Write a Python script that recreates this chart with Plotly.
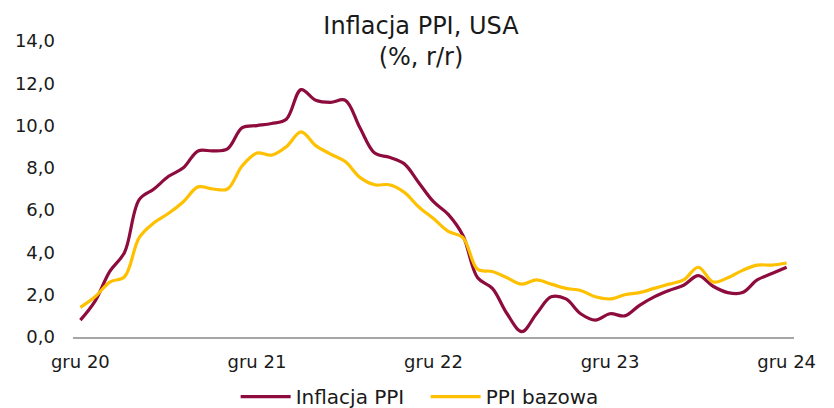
import plotly.graph_objects as go

# Monthly categories Dec 2020 .. Dec 2024
month_abbr = ["sty", "lut", "mar", "kwi", "maj", "cze", "lip", "sie", "wrz", "paź", "lis", "gru"]
categories = ["gru 20"] + [f"{m} {y}" for y in (21, 22, 23, 24) for m in month_abbr]

ppi = [0.8, 1.7, 3.1, 4.0, 6.5, 7.0, 7.6, 8.0, 8.8, 8.8, 8.9, 9.9, 10.0,
       10.1, 10.3, 11.7, 11.2, 11.1, 11.2, 9.9, 8.7, 8.5, 8.2, 7.3, 6.4,
       5.8, 4.8, 2.8, 2.3, 1.1, 0.25, 1.1, 1.9, 1.8, 1.1, 0.8, 1.1,
       1.0, 1.5, 1.9, 2.2, 2.45, 2.9, 2.4, 2.1, 2.1, 2.7, 3.0, 3.3]

core = [1.4, 1.9, 2.6, 2.85, 4.7, 5.4, 5.85, 6.4, 7.1, 7.0, 7.0, 8.1, 8.7,
        8.6, 9.0, 9.7, 9.05, 8.65, 8.3, 7.55, 7.2, 7.2, 6.85, 6.15, 5.6,
        5.0, 4.7, 3.2, 3.1, 2.8, 2.5, 2.7, 2.5, 2.3, 2.2, 1.9, 1.8,
        2.0, 2.1, 2.3, 2.5, 2.7, 3.3, 2.6, 2.8, 3.15, 3.4, 3.4, 3.5]

tick_labels = ["gru 20", "gru 21", "gru 22", "gru 23", "gru 24"]
y_ticks = [0, 2, 4, 6, 8, 10, 12, 14]

FONT = "DejaVu Sans"

fig = go.Figure()
fig.add_trace(go.Scatter(x=categories, y=ppi, mode="lines", name="Inflacja PPI",
                         line=dict(color="#8E0B3D", width=3.2, shape="spline", smoothing=1)))
fig.add_trace(go.Scatter(x=categories, y=core, mode="lines", name="PPI bazowa",
                         line=dict(color="#FFC000", width=3.2, shape="spline", smoothing=1)))

# page has an 8px body margin, so the figure is sized/offset to compensate
fig.update_layout(
    width=826, height=400,
    margin=dict(l=65, r=40, t=33, b=71, autoexpand=False),
    paper_bgcolor="white", plot_bgcolor="white",
    separators=", ",
    font=dict(family=FONT, size=18, color="#1a1a1a"),
    title=dict(text="Inflacja PPI, USA<br>(%, r/r)", x=0.5, xref="container", xanchor="center",
               y=0.936, yref="container", yanchor="top",
               font=dict(family=FONT, size=24, color="#1a1a1a")),
    showlegend=True,
    legend=dict(orientation="h", xref="container", x=0.2756, xanchor="left",
                yref="container", y=0.0285, yanchor="middle",
                font=dict(family=FONT, size=20, color="#1a1a1a"),
                itemwidth=50, entrywidth=125, entrywidthmode="pixels",
                traceorder="normal"),
)
fig.update_xaxes(type="category", range=[-0.5, len(categories) - 0.5],
                 tickmode="array", tickvals=tick_labels, ticktext=tick_labels,
                 showgrid=False, zeroline=False, showline=True, linecolor="#A6A6A6", linewidth=1.5,
                 ticks="", ticklabelstandoff=8, automargin=False)
fig.update_yaxes(range=[0, 14], tickvals=y_ticks, tickformat=".1f",
                 showgrid=False, zeroline=False, showline=False, ticks="",
                 ticklabelstandoff=17, automargin=False)

fig.write_html("out.html")
